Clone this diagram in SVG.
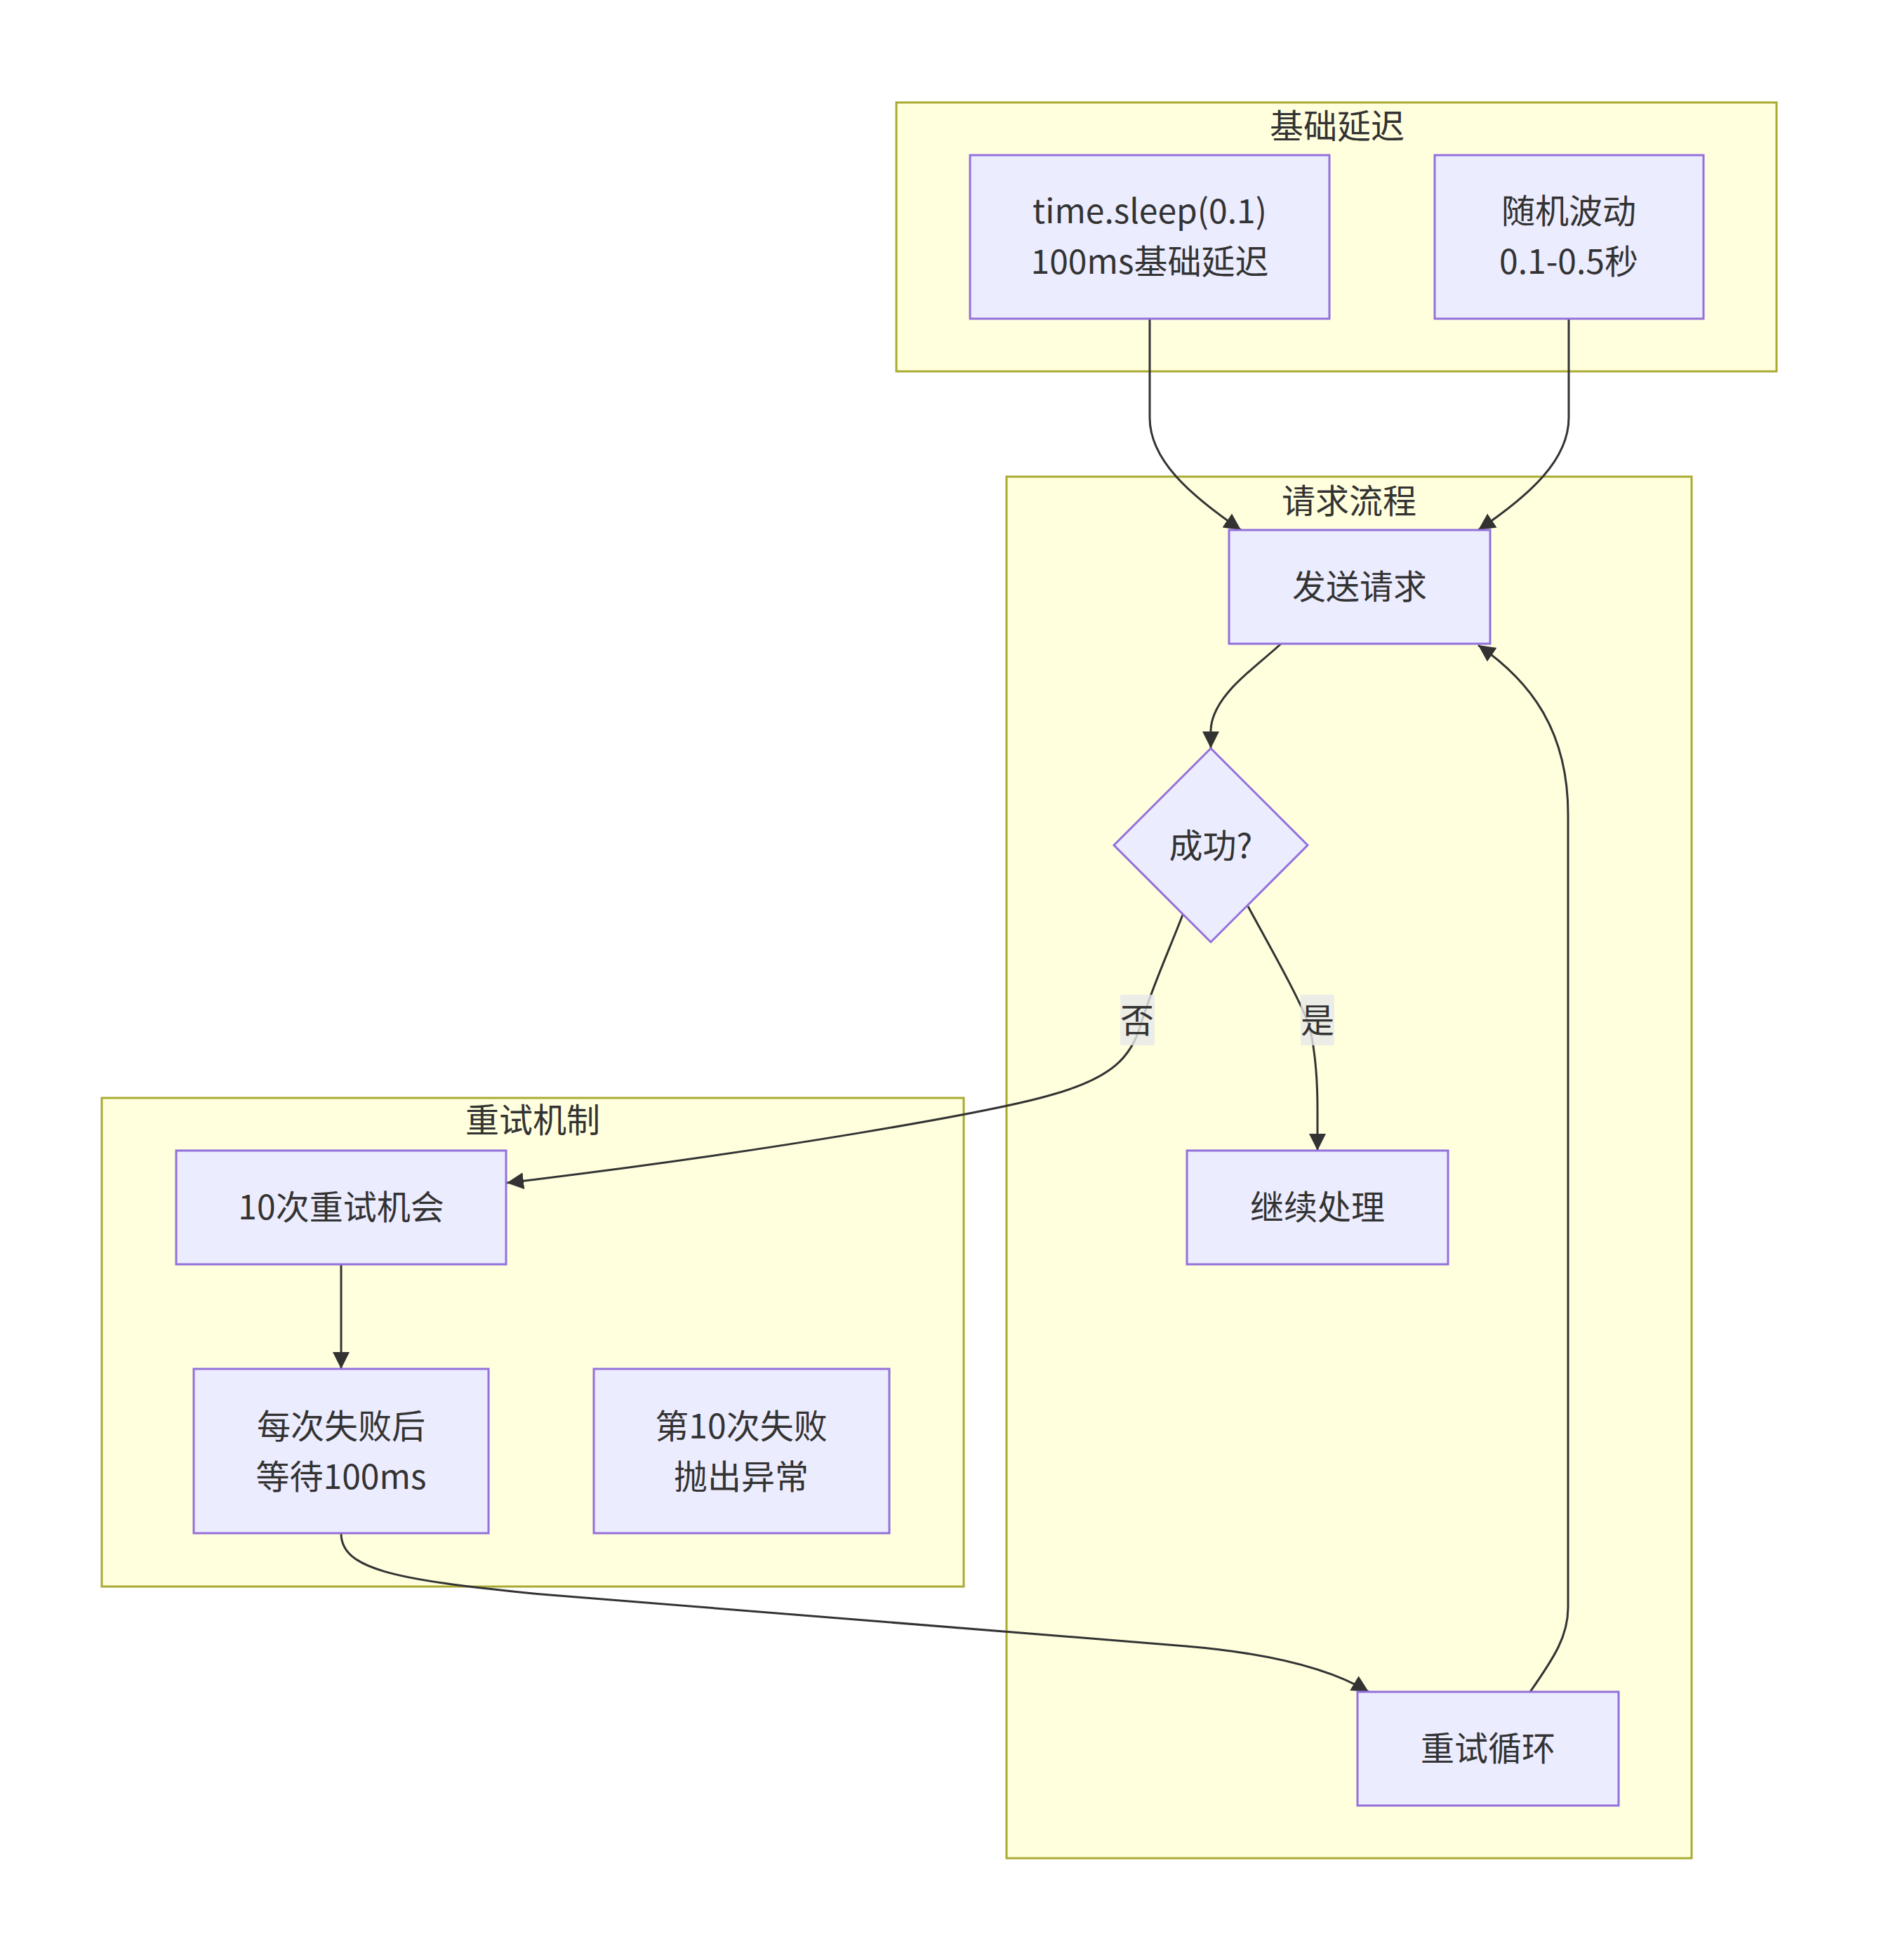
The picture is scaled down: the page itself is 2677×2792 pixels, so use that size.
<svg xmlns="http://www.w3.org/2000/svg" width="2677" height="2792" viewBox="0 0 2677 2792">
<style>
.cluster rect{fill:#ffffde;stroke:#aaaa33;stroke-width:3}
.node rect,.node polygon{fill:#ececff;stroke:#9370db;stroke-width:3}
text{font-family:"Noto Sans CJK SC","Noto Sans",sans-serif;font-size:48px;fill:#333;text-anchor:middle}
.edge{fill:none;stroke:#333;stroke-width:3}
.lbl{fill:#e8e8e8;fill-opacity:0.8}
</style>
<defs>
<marker id="arr" viewBox="0 0 10 10" refX="10" refY="5" markerUnits="userSpaceOnUse" markerWidth="24" markerHeight="24" orient="auto">
<path d="M0,0 L10,5 L0,10 z" fill="#333"/>
</marker>
</defs>
<rect width="2677" height="2792" fill="#fff"/>
<g id="clusters">
<g id="cluster-base" class="cluster"><rect x="1277" y="146" width="1254" height="383"/><text x="1905" y="197">基础延迟</text></g>
<g id="cluster-req" class="cluster"><rect x="1434" y="679" width="976" height="1968"/><text x="1922" y="731">请求流程</text></g>
<g id="cluster-retry" class="cluster"><rect x="145" y="1564" width="1228" height="696"/><text x="759" y="1613">重试机制</text></g>
</g>
<g id="connectors">
<path class="edge" d="M1638,455 L1638,595 C1638,655 1695,705 1768,755" marker-end="url(#arr)"/>
<path class="edge" d="M2235,455 L2235,595 C2235,655 2180,705 2106,755" marker-end="url(#arr)"/>
<path class="edge" d="M1825,917 C1790,950 1727,990 1725,1040 L1725,1066" marker-end="url(#arr)"/>
<path class="edge" d="M1685,1303 C1665,1355 1640,1410 1625,1460 C1612,1505 1585,1535 1500,1559 C1420,1583 1100,1640 722,1685" marker-end="url(#arr)"/>
<path class="edge" d="M1778,1291 C1810,1350 1850,1420 1865,1460 C1875,1500 1877,1540 1877,1580 L1877,1639" marker-end="url(#arr)"/>
<path class="edge" d="M486,1801 L486,1950" marker-end="url(#arr)"/>
<path class="edge" d="M486,2184 C486,2235 560,2250 760,2270 L1690,2345 C1820,2356 1900,2380 1950,2410" marker-end="url(#arr)"/>
<path class="edge" d="M2180,2410 C2215,2360 2234,2330 2234,2290 L2234,1160 C2234,1040 2180,970 2106,919" marker-end="url(#arr)"/>
<g id="label-no"><rect class="lbl" x="1596" y="1417" width="49" height="72"/><text x="1620" y="1471">否</text></g>
<g id="label-yes"><rect class="lbl" x="1853" y="1417" width="48" height="72"/><text x="1877" y="1471">是</text></g>
</g>
<g id="n-sleep" class="node"><rect x="1382" y="221" width="512" height="233"/><text x="1638" y="318">time.sleep(0.1)</text><text x="1638" y="390">100ms基础延迟</text></g>
<g id="n-random" class="node"><rect x="2044" y="221" width="383" height="233"/><text x="2235" y="318">随机波动</text><text x="2235" y="390">0.1-0.5秒</text></g>
<g id="n-send" class="node"><rect x="1751" y="755" width="372" height="162"/><text x="1937" y="853">发送请求</text></g>
<g id="n-success" class="node"><polygon points="1725,1066 1863,1204 1725,1342 1587,1204"/><text x="1725" y="1222">成功?</text></g>
<g id="n-continue" class="node"><rect x="1691" y="1639" width="372" height="162"/><text x="1877" y="1737">继续处理</text></g>
<g id="n-loop" class="node"><rect x="1934" y="2410" width="372" height="162"/><text x="2120" y="2508">重试循环</text></g>
<g id="n-ten" class="node"><rect x="251" y="1639" width="470" height="162"/><text x="486" y="1737">10次重试机会</text></g>
<g id="n-wait" class="node"><rect x="276" y="1950" width="420" height="234"/><text x="486" y="2049">每次失败后</text><text x="486" y="2121">等待100ms</text></g>
<g id="n-throw" class="node"><rect x="846" y="1950" width="421" height="234"/><text x="1056" y="2049">第10次失败</text><text x="1056" y="2121">抛出异常</text></g>
</svg>
